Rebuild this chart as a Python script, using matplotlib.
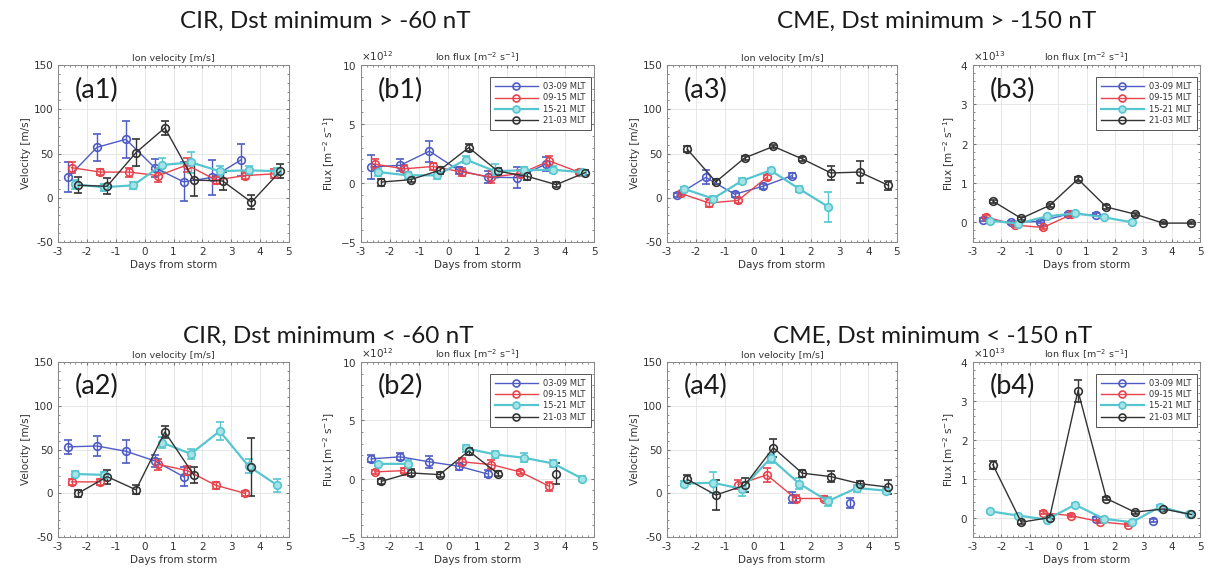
import numpy as np
import matplotlib
matplotlib.use('Agg')
import matplotlib.pyplot as plt
from matplotlib.ticker import MultipleLocator
from matplotlib.lines import Line2D

plt.rcParams['font.family'] = ['DejaVu Sans']
plt.rcParams['axes.unicode_minus'] = False

nan = np.nan

# days from storm (bin centres) and MLT sectors
days = [-2.5, -1.5, -0.5, 0.5, 1.5, 2.5, 3.5, 4.5]
sectors = ['03-09 MLT', '09-15 MLT', '15-21 MLT', '21-03 MLT']

# each panel: values / errors per sector [03-09, 09-15, 15-21, 21-03]
# CIR, Dst minimum > -60 nT
a1_val = [[23, 57, 66, 34, 18, 23, 43, nan],
          [34, 29, 29, 25, 37, 20, 25, 27],
          [15, 12, 14, 37, 40, 30, 31, 30],
          [14, 13, 51, 79, 20, 19, -5, 30]]
a1_err = [[17, 15, 21, 10, 22, 20, 18, nan],
          [6, 3, 5, 7, 8, 5, 4, 5],
          [5, 4, 4, 8, 12, 6, 5, 4],
          [9, 9, 15, 8, 18, 10, 8, 8]]
b1_val = [[1.36, 1.5, 2.7, 1.08, 0.5, 0.45, 1.6, nan],
          [1.6, 1.2, 1.4, 0.93, 0.5, 0.8, 1.87, 0.93],
          [0.93, 0.65, 0.65, 1.98, 1.0, 1.08, 1.13, 0.9],
          [0.08, 0.28, 1.08, 3.0, 1.0, 0.57, -0.14, 0.88]]
b1_err = [[1.0, 0.5, 0.9, 0.3, 0.5, 0.9, 0.6, nan],
          [0.4, 0.3, 0.3, 0.3, 0.5, 0.3, 0.4, 0.2],
          [0.3, 0.3, 0.3, 0.3, 0.6, 0.3, 0.3, 0.2],
          [0.3, 0.2, 0.3, 0.3, 0.3, 0.3, 0.2, 0.2]]
# CIR, Dst minimum < -60 nT
a2_val = [[53, 54, 48, 37, 19, nan, nan, nan],
          [13, 13, nan, 33, 26, 9, 0, nan],
          [22, 21, nan, 58, 45, 71, 31, 9],
          [0, 19, 4, 70, 21, nan, 30, nan]]
a2_err = [[8, 11, 13, 7, 11, nan, nan, nan],
          [3, 3, nan, 6, 5, 4, 3, nan],
          [3, 3, nan, 6, 6, 10, 8, 7],
          [4, 8, 5, 7, 9, nan, 33, nan]]
b2_val = [[1.7, 1.87, 1.44, 1.07, 0.4, nan, nan, nan],
          [0.58, 0.69, nan, 1.44, 1.21, 0.58, -0.66, nan],
          [1.27, 1.27, nan, 2.6, 2.08, 1.79, 1.3, 0.0],
          [-0.23, 0.49, 0.35, 2.37, 0.43, nan, 0.4, nan]]
b2_err = [[0.3, 0.3, 0.5, 0.3, 0.3, nan, nan, nan],
          [0.2, 0.2, nan, 0.3, 0.4, 0.2, 0.4, nan],
          [0.2, 0.3, nan, 0.3, 0.3, 0.4, 0.3, 0.2],
          [0.2, 0.3, 0.2, 0.3, 0.2, nan, 0.9, nan]]
# CME, Dst minimum > -150 nT
a3_val = [[3, 23, 4, 13, 25, nan, nan, nan],
          [5, -6, -3, 23, nan, nan, nan, nan],
          [10, -1, 19, 31, 10, -10, nan, nan],
          [55, 18, 45, 58, 44, 28, 29, 14]]
a3_err = [[2, 8, 3, 3, 3, nan, nan, nan],
          [2, 5, 3, 3, nan, nan, nan, nan],
          [2, 3, 3, 3, 3, 17, nan, nan],
          [3, 3, 2, 2, 2, 8, 12, 5]]
b3_val = [[0.07, 0.0, 0.02, 0.21, 0.19, nan, nan, nan],
          [0.14, -0.07, -0.13, 0.2, nan, nan, nan, nan],
          [0.04, -0.03, 0.15, 0.23, 0.13, 0.0, nan, nan],
          [0.54, 0.1, 0.43, 1.1, 0.39, 0.21, -0.02, -0.02]]
b3_err = [[0.04, 0.04, 0.04, 0.04, 0.04, nan, nan, nan],
          [0.04, 0.04, 0.04, 0.04, nan, nan, nan, nan],
          [0.03, 0.03, 0.03, 0.03, 0.03, 0.03, nan, nan],
          [0.04, 0.04, 0.04, 0.05, 0.04, 0.04, 0.02, 0.02]]
# CME, Dst minimum < -150 nT
a4_val = [[nan, nan, nan, nan, -5, nan, -11, nan],
          [nan, nan, 10, 21, -6, -6, nan, nan],
          [11, 12, 5, 40, 11, -9, 6, 3],
          [16, -2, 9, 52, 23, 19, 11, 7]]
a4_err = [[nan, nan, nan, nan, 6, nan, 6, nan],
          [nan, nan, 5, 8, 4, 3, nan, nan],
          [3, 12, 8, 5, 6, 5, 4, 3],
          [5, 17, 8, 10, 4, 6, 3, 8]]
b4_val = [[nan, nan, nan, nan, -0.03, nan, -0.08, nan],
          [nan, nan, 0.12, 0.05, -0.11, -0.18, nan, nan],
          [0.16, 0.05, -0.05, 0.33, -0.03, -0.12, 0.28, 0.08],
          [1.36, -0.12, 0.0, 3.26, 0.49, 0.14, 0.22, 0.08]]
b4_err = [[nan, nan, nan, nan, 0.04, nan, 0.04, nan],
          [nan, nan, 0.04, 0.04, 0.04, 0.04, nan, nan],
          [0.04, 0.04, 0.04, 0.04, 0.04, 0.04, 0.04, 0.04],
          [0.1, 0.05, 0.04, 0.28, 0.04, 0.04, 0.04, 0.04]]

colors = ['#4e5cc4', '#e8424c', '#55c6cf', '#333333']
faces = ['none', 'none', '#a6e3e7', 'none']
widths = [1.0, 1.0, 1.6, 1.0]
shift = [-0.15, -0.03, 0.1, 0.2]

W, H = 1211, 579
fig = plt.figure(figsize=(W / 100, H / 100), dpi=100)


def box(l, r, t, b):
    return [l / W, 1 - b / H, (r - l) / W, (b - t) / H]


def panel(rect, vals, errs, label, kind, scale=1.0):
    ax = fig.add_axes(rect)
    handles = []
    for i in range(4):
        x = np.array(days) + shift[i]
        y = np.array(vals[i], dtype=float) * scale
        e = np.array(errs[i], dtype=float) * scale
        ax.errorbar(x, y, yerr=e, color=colors[i], lw=widths[i], marker='o',
                    ms=5.5, mfc=faces[i], mec=colors[i], mew=1.2,
                    capsize=2.8, elinewidth=1.0)
        handles.append(Line2D([], [], color=colors[i], lw=widths[i], marker='o',
                              ms=5, mfc=faces[i], mec=colors[i], mew=1.2,
                              label=sectors[i]))
    ax.set_xlim(-3, 5)
    ax.xaxis.set_major_locator(MultipleLocator(1))
    ax.xaxis.set_minor_locator(MultipleLocator(0.2))
    if kind == 'vel':
        ax.set_ylim(-50, 150)
        ax.yaxis.set_major_locator(MultipleLocator(50))
        ax.yaxis.set_minor_locator(MultipleLocator(10))
        ax.set_ylabel('Velocity [m/s]', fontsize=7.5, color='#333333', labelpad=2)
        ax.set_title('Ion velocity [m/s]', fontsize=6.8, color='#333333', pad=3)
    else:
        if scale == 1e12:
            ax.set_ylim(-5e12, 10e12)
            ax.yaxis.set_major_locator(MultipleLocator(5e12))
            ax.yaxis.set_minor_locator(MultipleLocator(1e12))
            ax.ticklabel_format(axis='y', style='sci', scilimits=(12, 12),
                                useMathText=True)
        else:
            ax.set_ylim(-0.5e13, 4e13)
            ax.yaxis.set_major_locator(MultipleLocator(1e13))
            ax.yaxis.set_minor_locator(MultipleLocator(0.2e13))
            ax.ticklabel_format(axis='y', style='sci', scilimits=(13, 13),
                                useMathText=True)
        ax.yaxis.get_offset_text().set_fontsize(7.5)
        ax.yaxis.get_offset_text().set_color('#555555')
        ax.set_ylabel('Flux [m$^{-2}$ s$^{-1}$]', fontsize=7.5, color='#333333',
                      labelpad=2)
        ax.set_title('Ion flux [m$^{-2}$ s$^{-1}$]', fontsize=6.8,
                     color='#333333', pad=3)
        leg = ax.legend(handles=handles, loc='upper right',
                        bbox_to_anchor=(0.985, 0.93), borderaxespad=0,
                        fontsize=6, handlelength=5.2, handletextpad=0.6,
                        labelspacing=0.25, borderpad=0.6, fancybox=False,
                        edgecolor='#555555', framealpha=1)
        leg.get_frame().set_linewidth(0.7)
        for t in leg.get_texts():
            t.set_color('#333333')
    ax.set_xlabel('Days from storm', fontsize=7.5, color='#333333', labelpad=2)
    ax.grid(True, color='#e3e3e3', lw=0.6)
    ax.set_axisbelow(True)
    ax.tick_params(which='both', direction='in', top=True, right=True,
                   colors='#777777', labelcolor='#333333', labelsize=7.5)
    ax.tick_params(which='major', length=2.5)
    ax.tick_params(which='minor', length=1.2)
    for s in ax.spines.values():
        s.set_color('#888888')
        s.set_linewidth(0.7)
    ax.text(0.074, 0.815, label, transform=ax.transAxes, va='baseline',
            ha='left', fontsize=19.5, family='Lato', color='#1a1a1a')
    return ax


panel(box(58, 289, 65, 242), a1_val, a1_err, '(a1)', 'vel')
panel(box(361, 594, 65, 242), b1_val, b1_err, '(b1)', 'flux', 1e12)
panel(box(667, 897, 65, 242), a3_val, a3_err, '(a3)', 'vel')
panel(box(973, 1200, 65, 242), b3_val, b3_err, '(b3)', 'flux', 1e13)
panel(box(58, 289, 362, 537), a2_val, a2_err, '(a2)', 'vel')
panel(box(361, 594, 362, 537), b2_val, b2_err, '(b2)', 'flux', 1e12)
panel(box(667, 897, 362, 537), a4_val, a4_err, '(a4)', 'vel')
panel(box(973, 1200, 362, 537), b4_val, b4_err, '(b4)', 'flux', 1e13)

titles = ['CIR, Dst minimum > -60 nT', 'CME, Dst minimum > -150 nT',
          'CIR, Dst minimum < -60 nT', 'CME, Dst minimum < -150 nT']
title_pos = [(180, 28), (777, 28), (183, 343), (773, 343)]
for s, (px, py) in zip(titles, title_pos):
    fig.text(px / W, 1 - py / H, s, ha='left', va='baseline', fontsize=17.5,
             family='Lato', color='#1a1a1a')

fig.savefig('out.png', dpi=100, facecolor='white')
